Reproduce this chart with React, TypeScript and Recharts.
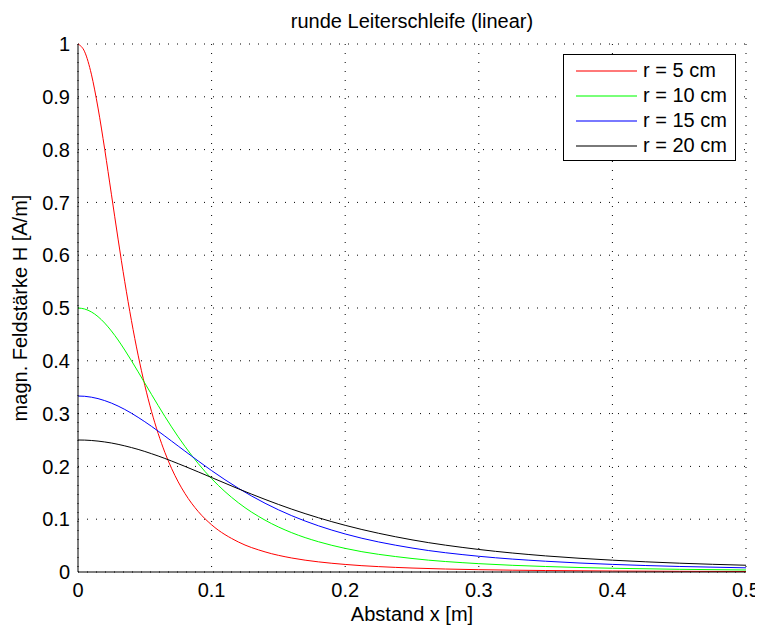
import { LineChart, Line, XAxis, YAxis, CartesianGrid, Legend } from 'recharts';

// Abstand x [m]
const distance = [
  0, 0.005, 0.01, 0.015, 0.02, 0.025, 0.03, 0.035, 0.04, 0.045, 0.05, 0.055, 0.06, 0.065, 0.07, 0.075,
  0.08, 0.09, 0.1, 0.12, 0.14, 0.16, 0.18, 0.2, 0.25, 0.3, 0.35, 0.4, 0.45, 0.5,
];

// H [A/m] per loop radius
const r5 = [
  1, 0.9852, 0.9429, 0.8787, 0.8004, 0.7155, 0.6305, 0.5498, 0.4761, 0.4107, 0.3536, 0.3044, 0.2624, 0.2267,
  0.1964, 0.1707, 0.1489, 0.1145, 0.0894, 0.0569, 0.0381, 0.0265, 0.0192, 0.0143, 0.0075, 0.0044, 0.0028,
  0.0019, 0.0013, 0.001,
];
const r10 = [
  0.5, 0.4981, 0.4926, 0.4836, 0.4714, 0.4565, 0.4394, 0.4204, 0.4002, 0.3792, 0.3578, 0.3364, 0.3153, 0.2947,
  0.2749, 0.256, 0.2381, 0.2053, 0.1768, 0.1312, 0.0982, 0.0744, 0.0573, 0.0447, 0.0256, 0.0158, 0.0104,
  0.0071, 0.0051, 0.0038,
];
const r15 = [
  0.3333, 0.3328, 0.3311, 0.3284, 0.3246, 0.3199, 0.3143, 0.3079, 0.3007, 0.2929, 0.2846, 0.2759, 0.2668,
  0.2575, 0.248, 0.2385, 0.229, 0.2102, 0.192, 0.1587, 0.1302, 0.1066, 0.0875, 0.072, 0.0454, 0.0298, 0.0204,
  0.0144, 0.0105, 0.0079,
];
const r20 = [
  0.25, 0.2498, 0.2491, 0.2479, 0.2463, 0.2443, 0.2418, 0.2389, 0.2357, 0.2322, 0.2283, 0.2241, 0.2197,
  0.2151, 0.2102, 0.2052, 0.2001, 0.1896, 0.1789, 0.1576, 0.1375, 0.119, 0.1027, 0.0884, 0.0609, 0.0427,
  0.0305, 0.0224, 0.0167, 0.0128,
];

const seriesKeys = ['r5', 'r10', 'r15', 'r20'];
const seriesNames = ['r = 5 cm', 'r = 10 cm', 'r = 15 cm', 'r = 20 cm'];
const seriesColors = ['#ff0000', '#00ff00', '#0000ff', '#000000'];

const xTicks = [0, 0.1, 0.2, 0.3, 0.4, 0.5];
const yTicks = [0, 0.1, 0.2, 0.3, 0.4, 0.5, 0.6, 0.7, 0.8, 0.9, 1];

const data = distance.map((x, i) => ({ x, r5: r5[i], r10: r10[i], r15: r15[i], r20: r20[i] }));

const font = '"Liberation Sans", Arial, sans-serif';
const fontSize = 20;

const LegendBox = () => (
  <div
    style={{
      width: 171,
      height: 102,
      border: '1px solid #000',
      background: '#fff',
      paddingTop: 3,
      boxSizing: 'content-box',
      fontFamily: font,
      fontSize,
      color: '#000',
    }}
  >
    {seriesNames.map((name, i) => (
      <div key={name} style={{ display: 'flex', alignItems: 'center', height: 25 }}>
        <svg width={79} height={25} style={{ display: 'block' }}>
          <line x1={12} x2={73} y1={13} y2={13} stroke={seriesColors[i]} strokeWidth={1.6} strokeOpacity={0.7} />
        </svg>
        <span style={{ whiteSpace: 'nowrap', lineHeight: '25px' }}>{name}</span>
      </div>
    ))}
  </div>
);

const App = () => {
  return (
    <div style={{ position: 'relative', width: 755, height: 619 }}>
      <LineChart
        width={755}
        height={619}
        data={data}
        margin={{ top: 36, right: 17, left: 0, bottom: 25 }}
        style={{ fontFamily: font }}
      >
        <CartesianGrid xAxisId="main" yAxisId="main" stroke="#000" strokeDasharray="1 8" />
        <XAxis
          xAxisId="main"
          dataKey="x"
          type="number"
          domain={[0, 0.5]}
          ticks={xTicks}
          height={30}
          tickSize={0}
          tickMargin={11}
          tickLine={false}
          axisLine={{ stroke: '#000' }}
          tick={{ fill: '#000', fontSize }}
          label={{ value: 'Abstand x [m]', position: 'bottom', offset: 5, fill: '#000', fontSize }}
        />
        <XAxis
          xAxisId="bottomTicks"
          type="number"
          domain={[0, 0.5]}
          ticks={xTicks}
          allowDataOverflow
          orientation="bottom"
          mirror
          height={0}
          tickSize={6}
          tick={false}
          axisLine={false}
          tickLine={{ stroke: '#000' }}
        />
        <XAxis
          xAxisId="top"
          type="number"
          domain={[0, 0.5]}
          ticks={xTicks}
          allowDataOverflow
          orientation="top"
          mirror
          height={0}
          tickSize={6}
          tick={false}
          axisLine={{ stroke: '#000' }}
          tickLine={{ stroke: '#000' }}
        />
        <YAxis
          yAxisId="main"
          type="number"
          domain={[0, 1]}
          ticks={yTicks}
          width={70}
          tickSize={0}
          tickMargin={8}
          tickLine={false}
          axisLine={{ stroke: '#000' }}
          tick={{ fill: '#000', fontSize }}
          label={{
            value: 'magn. Feldstärke H [A/m]',
            angle: -90,
            position: 'insideLeft',
            offset: 12,
            fill: '#000',
            fontSize,
            style: { textAnchor: 'middle' },
          }}
        />
        <YAxis
          yAxisId="leftTicks"
          type="number"
          domain={[0, 1]}
          ticks={yTicks}
          allowDataOverflow
          orientation="left"
          mirror
          width={0}
          tickSize={6}
          tick={false}
          axisLine={false}
          tickLine={{ stroke: '#000' }}
        />
        <YAxis
          yAxisId="right"
          type="number"
          domain={[0, 1]}
          ticks={yTicks}
          allowDataOverflow
          orientation="right"
          mirror
          width={0}
          tickSize={6}
          tick={false}
          axisLine={{ stroke: '#000' }}
          tickLine={{ stroke: '#000' }}
        />
        {seriesKeys.map((key, i) => (
          <Line
            key={key}
            xAxisId="main"
            yAxisId="main"
            type="monotone"
            dataKey={key}
            name={seriesNames[i]}
            stroke={seriesColors[i]}
            strokeWidth={1}
            dot={false}
            activeDot={false}
            isAnimationActive={false}
          />
        ))}
        <Legend
          layout="vertical"
          align="center"
          verticalAlign="middle"
          content={() => <LegendBox />}
          wrapperStyle={{ top: 46, left: 555, width: 173, height: 106 }}
        />
      </LineChart>
      <svg
        width={755}
        height={32}
        style={{ position: 'absolute', top: 0, left: 0, pointerEvents: 'none' }}
      >
        <text x={404} y={20} textAnchor="middle" fontFamily={font} fontSize={fontSize} fill="#000">
          runde Leiterschleife (linear)
        </text>
      </svg>
    </div>
  );
};

export default App;
